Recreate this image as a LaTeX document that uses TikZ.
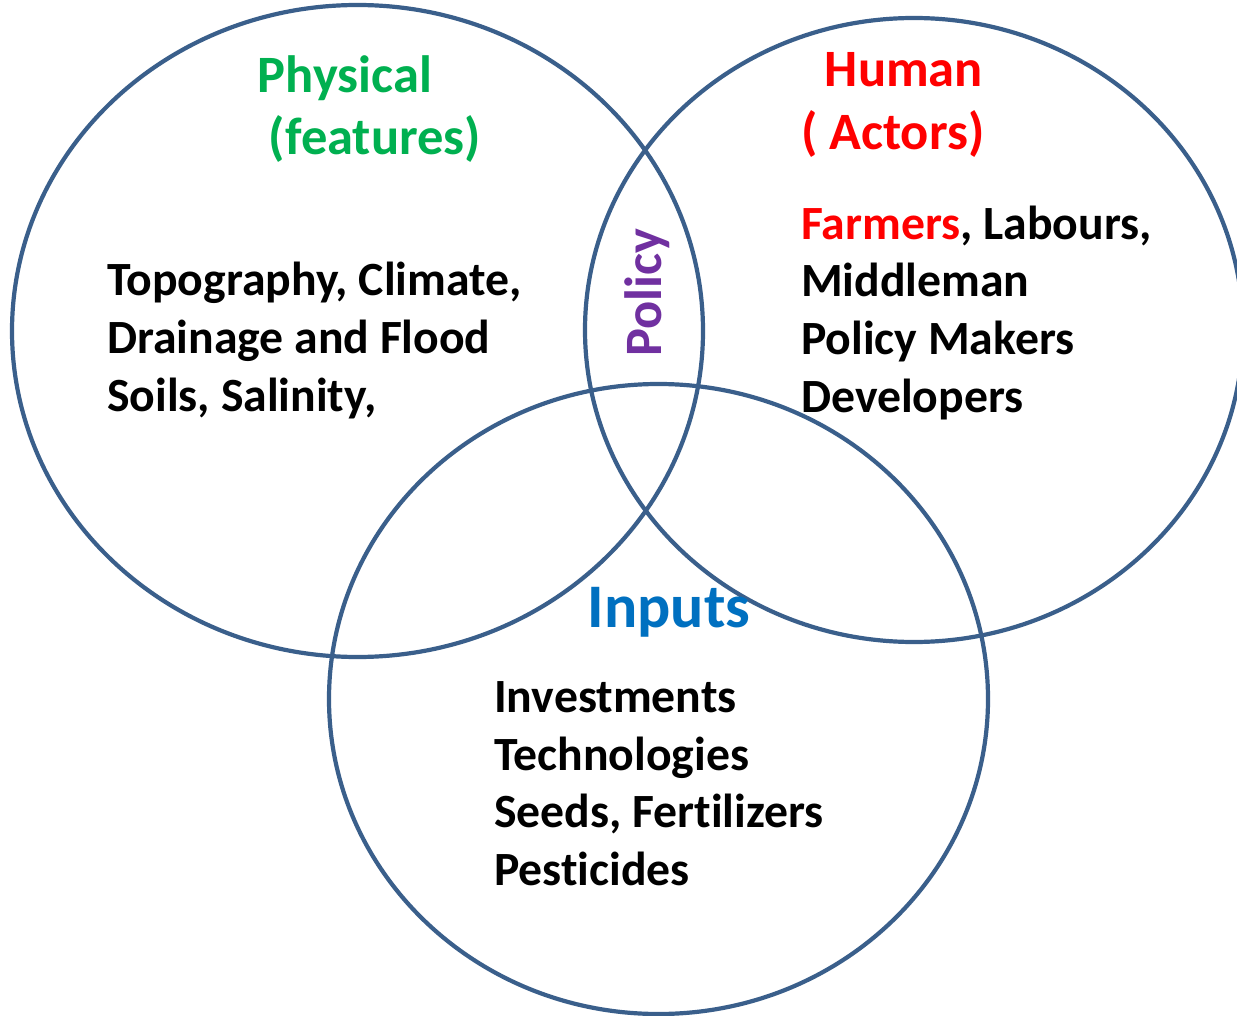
\documentclass[tikz,border=0pt]{standalone}
\usepackage{fontspec}
\setmainfont{Carlito}[Ligatures=NoCommon]
\definecolor{ringblue}{HTML}{3A5F8B}
\definecolor{physgreen}{HTML}{00B050}
\definecolor{humanred}{HTML}{FF0000}
\definecolor{inputblue}{HTML}{0070C0}
\definecolor{policypurple}{HTML}{7030A0}
\begin{document}
\begin{tikzpicture}[x=1pt,y=-1pt,
  ring/.style={draw=ringblue,line width=4.2pt},
  title/.style={inner sep=0pt,font=\fontsize{52.5}{62}\selectfont\bfseries},
  body/.style={inner sep=0pt,anchor=base west,font=\fontsize{47.7}{57}\selectfont\bfseries}]
\useasboundingbox (0,0) rectangle (1237,1016);
\clip (0,0) rectangle (1237,1016);
\fill[white] (0,0) rectangle (1237,1016);

% the three sets
\draw[ring] (357.5,331) ellipse [x radius=345.5pt, y radius=326pt];
\draw[ring] (914,330) ellipse [x radius=329pt, y radius=312pt];
\draw[ring] (658.5,699) ellipse [x radius=329.5pt, y radius=315pt];

% physical set
\node[title,anchor=base,text=physgreen] (phys) at (345,93) {Physical};
\node[title,anchor=base,text=physgreen] (physsub) at (375,155) {(features)};
\node[body] (p1) at (107,296) {Topography, Climate,};
\node[body] (p2) at (107,353) {Drainage and Flood};
\node[body] (p3) at (107,411) {Soils, Salinity,};

% human set
\node[title,anchor=base,text=humanred] (hum) at (904,87) {Human};
\node[title,anchor=base west,text=humanred] (humsub) at (801,150) {( Actors)};
\node[body] (h1) at (801,240) {\textcolor{humanred}{Farmers}, Labours,};
\node[body] (h2) at (801,297) {Middleman};
\node[body] (h3) at (801,355) {Policy Makers};
\node[body] (h4) at (801,412) {Developers};

% overlap of physical and human
\node[title,anchor=base,rotate=90,text=policypurple] (pol) at (661,293) {Policy};

% inputs set
\node[inner sep=0pt,anchor=base,font=\fontsize{62}{70}\selectfont\bfseries,text=inputblue] (inp) at (669,627) {Inputs};
\node[body] (i1) at (494,712) {Investments};
\node[body] (i2) at (494,770) {Technologies};
\node[body] (i3) at (494,827) {Seeds, Fertilizers};
\node[body] (i4) at (494,885) {Pesticides};
\end{tikzpicture}
\end{document}
